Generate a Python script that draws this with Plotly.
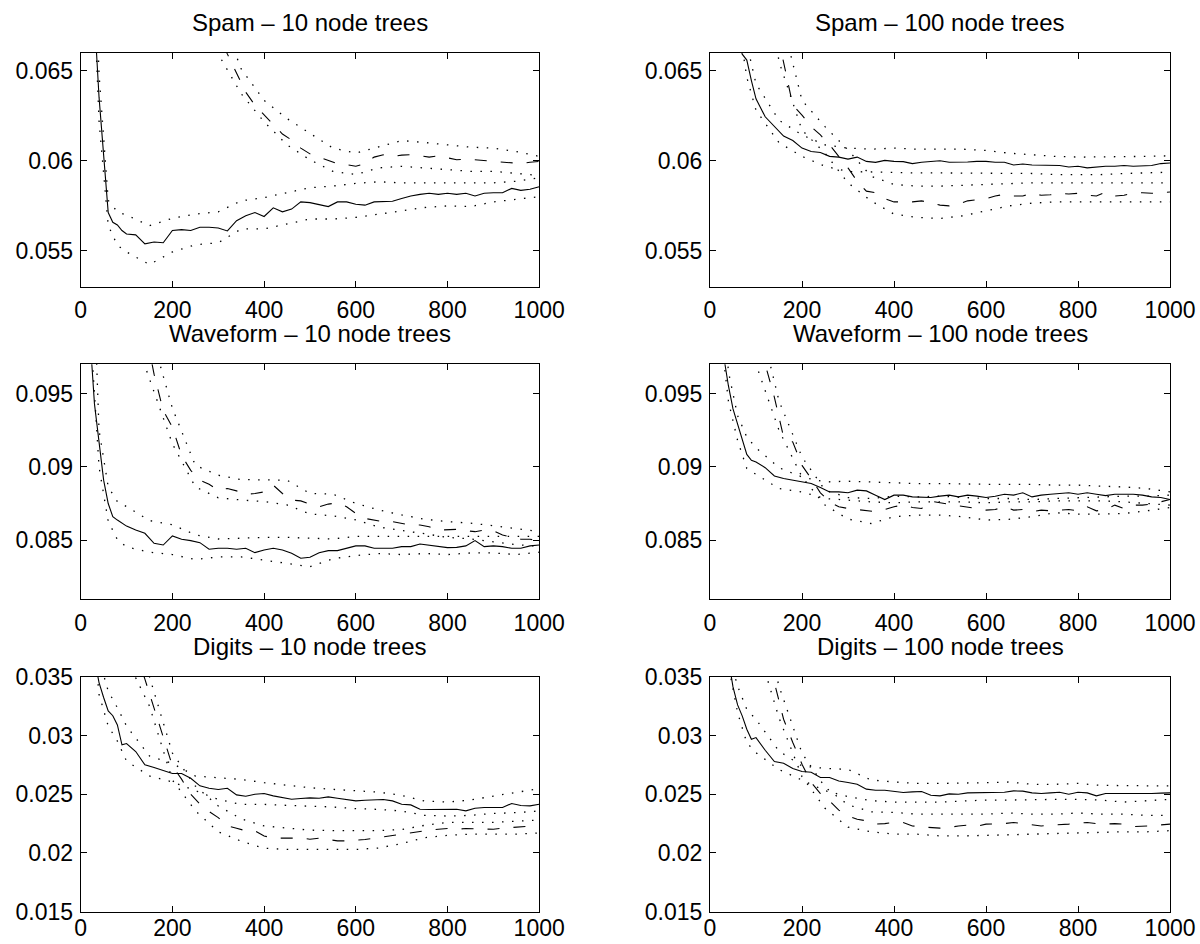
import plotly.graph_objects as go

# ---------------- x grids ----------------
X = [10, 20, 30, 40, 50, 60, 70, 80, 90, 100,
     120, 140, 160, 180, 200, 220, 240, 260, 280, 300,
     320, 340, 360, 380, 400, 420, 440, 460, 480, 500,
     520, 540, 560, 580, 600, 620, 640, 660, 680, 700,
     720, 740, 760, 780, 800, 820, 840, 860, 880, 900,
     920, 940, 960, 980, 1000]
BX = [20, 40, 60, 80, 100, 150, 200, 250, 300, 350, 400, 450,
      500, 550, 600, 650, 700, 750, 800, 850, 900, 950, 1000]

X_TICKS = [0, 200, 400, 600, 800, 1000]
X_TICK_LABELS = ["0", "200", "400", "600", "800", "1000"]

TITLES = ["Spam \u2013 10 node trees", "Spam \u2013 100 node trees",
          "Waveform \u2013 10 node trees", "Waveform \u2013 100 node trees",
          "Digits \u2013 10 node trees", "Digits \u2013 100 node trees"]

# ---------------- Spam, 10 node trees ----------------
spam10_solid = [0.09, 0.078, 0.068, 0.06353, 0.06005, 0.05712, 0.05658, 0.05643, 0.05612, 0.05593,
                0.05588, 0.05538, 0.05548, 0.05544, 0.05612, 0.05617, 0.05612, 0.0563, 0.0563, 0.05626,
                0.0561, 0.05667, 0.05694, 0.05712, 0.0569, 0.05738, 0.05716, 0.05731, 0.05771, 0.05767,
                0.05756, 0.05745, 0.05771, 0.05771, 0.05758, 0.05753, 0.05771, 0.05775, 0.05775, 0.0579,
                0.05804, 0.05813, 0.05819, 0.05813, 0.05819, 0.05813, 0.05819, 0.05804, 0.05819, 0.05822,
                0.05822, 0.05846, 0.05835, 0.05841, 0.05855]
spam10_solid_hi = [0.08, 0.0648, 0.0578, 0.05716, 0.05698, 0.05639, 0.0568, 0.05703, 0.05716, 0.05777,
                   0.05795, 0.05822, 0.0585, 0.05859, 0.05874, 0.05883, 0.05877, 0.05877, 0.05877,
                   0.05881, 0.05877, 0.05886, 0.05905]
spam10_solid_lo = [0.075, 0.0622, 0.0564, 0.0553, 0.05493, 0.05423, 0.05493, 0.05533, 0.05544, 0.05621,
                   0.05621, 0.05648, 0.05676, 0.05676, 0.05685, 0.05703, 0.05722, 0.0574, 0.05749,
                   0.05745, 0.05771, 0.05786, 0.058]
spam10_dash = [0.1, 0.097, 0.094, 0.092, 0.09, 0.088, 0.086, 0.085, 0.084, 0.082,
               0.08, 0.078, 0.0765, 0.075, 0.0735, 0.0722, 0.071, 0.0696, 0.0683, 0.067,
               0.06592, 0.06482, 0.06381, 0.06308, 0.06253, 0.06198, 0.06148, 0.06115, 0.0607, 0.06038,
               0.0602, 0.06005, 0.05984, 0.05978, 0.05969, 0.05984, 0.0602, 0.06033, 0.06024, 0.06031,
               0.06033, 0.06027, 0.0602, 0.06027, 0.06015, 0.06005, 0.06009, 0.06005, 0.06002, 0.06,
               0.05995, 0.05991, 0.05984, 0.05991, 0.05996]
spam10_dash_hi = [0.1, 0.095, 0.09, 0.087, 0.084, 0.078, 0.074, 0.071, 0.0685, 0.0651,
                  0.06335, 0.06234, 0.06152, 0.0607, 0.06042, 0.06079, 0.06112, 0.06101, 0.06088,
                  0.06075, 0.0607, 0.06051, 0.06024]
spam10_dash_lo = [0.095, 0.09, 0.086, 0.083, 0.08, 0.075, 0.071, 0.068, 0.06592, 0.06372,
                  0.06216, 0.06088, 0.06005, 0.05941, 0.05923, 0.0596, 0.05969, 0.0596, 0.05951,
                  0.05941, 0.05941, 0.05929, 0.05918]

# ---------------- Spam, 100 node trees ----------------
spam100_solid = [0.085, 0.08, 0.076, 0.072, 0.069, 0.067, 0.06592, 0.06559, 0.06445, 0.06344,
                 0.06244, 0.06192, 0.06137, 0.06112, 0.0607, 0.06051, 0.06046, 0.06024, 0.0602, 0.06009,
                 0.0602, 0.05996, 0.05991, 0.06002, 0.05996, 0.05995, 0.05984, 0.05991, 0.05996, 0.06,
                 0.05991, 0.05991, 0.05993, 0.05996, 0.05996, 0.05991, 0.05991, 0.05976, 0.05982, 0.05976,
                 0.05976, 0.05973, 0.05973, 0.05965, 0.05969, 0.0596, 0.05965, 0.05969, 0.05969, 0.05973,
                 0.05969, 0.05973, 0.05973, 0.05984, 0.05987]
spam100_solid_hi = [0.09, 0.08, 0.072, 0.0665, 0.06427, 0.06225, 0.06143, 0.06088, 0.0607, 0.06064,
                    0.0607, 0.06064, 0.06064, 0.06064, 0.06057, 0.06042, 0.06033, 0.06024, 0.0602,
                    0.0602, 0.0602, 0.06024, 0.06027]
spam100_solid_lo = [0.085, 0.075, 0.068, 0.06463, 0.0628, 0.061, 0.06024, 0.05969, 0.0594, 0.05936,
                    0.05932, 0.05932, 0.05932, 0.05932, 0.05929, 0.05929, 0.05929, 0.05923, 0.05923,
                    0.05923, 0.05929, 0.05932, 0.05936]
spam100_dash = [0.1, 0.095, 0.09, 0.086, 0.083, 0.08, 0.078, 0.076, 0.074, 0.072,
                0.07, 0.0678, 0.06546, 0.06308, 0.06253, 0.06189, 0.06143, 0.06088, 0.06024, 0.0596,
                0.05886, 0.05831, 0.05822, 0.05789, 0.05771, 0.05771, 0.05771, 0.05777, 0.05767, 0.05753,
                0.05749, 0.05758, 0.05777, 0.05782, 0.05789, 0.05804, 0.05813, 0.05804, 0.05804, 0.05819,
                0.05808, 0.05811, 0.05819, 0.05815, 0.05819, 0.05808, 0.05804, 0.05826, 0.05804, 0.05808,
                0.05819, 0.05822, 0.05819, 0.05822, 0.05826]
spam100_dash_hi = [0.1, 0.095, 0.09, 0.085, 0.08, 0.0685, 0.06335, 0.06189, 0.0606, 0.05914,
                   0.05868, 0.05859, 0.05859, 0.05863, 0.05868, 0.05874, 0.05877, 0.05877, 0.05877,
                   0.05877, 0.05874, 0.05874, 0.05877]
spam100_dash_lo = [0.095, 0.09, 0.085, 0.08, 0.075, 0.0655, 0.0617, 0.06042, 0.05877, 0.05777,
                   0.05703, 0.05685, 0.05679, 0.05694, 0.05722, 0.05749, 0.05764, 0.05771, 0.05771,
                   0.05771, 0.05771, 0.05771, 0.05771]

# ---------------- Waveform, 10 node trees ----------------
wave10_solid = [0.105, 0.099, 0.0943, 0.09158, 0.0891, 0.08751, 0.08661, 0.08638, 0.08615, 0.08597,
                0.0857, 0.08548, 0.0848, 0.08468, 0.0853, 0.08507, 0.08498, 0.08484, 0.08439, 0.08446,
                0.08446, 0.08439, 0.08446, 0.08416, 0.08434, 0.08446, 0.08434, 0.08412, 0.08378, 0.08385,
                0.08416, 0.0843, 0.0843, 0.08446, 0.08462, 0.08462, 0.08446, 0.08446, 0.08446, 0.08457,
                0.08457, 0.08475, 0.08468, 0.08457, 0.0845, 0.08452, 0.08462, 0.08498, 0.08457, 0.08462,
                0.08457, 0.08446, 0.08446, 0.08462, 0.08468]
wave10_solid_hi = [0.11, 0.0925, 0.08865, 0.08764, 0.0873, 0.08635, 0.08606, 0.08538, 0.08509, 0.08516,
                   0.0852, 0.0852, 0.08516, 0.08509, 0.08527, 0.08527, 0.08523, 0.08527, 0.08523,
                   0.08527, 0.08523, 0.08523, 0.08527]
wave10_solid_lo = [0.1, 0.09, 0.0863, 0.08505, 0.08455, 0.08419, 0.08403, 0.08369, 0.08387, 0.08387,
                   0.08365, 0.08342, 0.0832, 0.08374, 0.08396, 0.0841, 0.08403, 0.0841, 0.08403,
                   0.08414, 0.08414, 0.08403, 0.08419]
wave10_dash = [0.125, 0.122, 0.12, 0.118, 0.116, 0.114, 0.112, 0.11, 0.108, 0.106,
               0.103, 0.0995, 0.09633, 0.09385, 0.09271, 0.09079, 0.08977, 0.0891, 0.08882, 0.08842,
               0.08853, 0.08837, 0.08814, 0.08819, 0.0883, 0.08876, 0.08819, 0.08774, 0.08769, 0.08747,
               0.08729, 0.08747, 0.08756, 0.08729, 0.08683, 0.08649, 0.08638, 0.08627, 0.08627, 0.08615,
               0.08604, 0.08604, 0.08593, 0.0857, 0.08575, 0.08575, 0.08566, 0.08559, 0.0857, 0.08566,
               0.08536, 0.0852, 0.08507, 0.08507, 0.08498]
wave10_dash_hi = [0.125, 0.118, 0.113, 0.109, 0.106, 0.0995, 0.094, 0.09011, 0.08944, 0.08914,
                  0.08914, 0.0891, 0.0882, 0.08815, 0.08752, 0.08707, 0.08673, 0.08644, 0.08628,
                  0.08617, 0.086, 0.0858, 0.0856]
wave10_dash_lo = [0.12, 0.113, 0.108, 0.104, 0.1005, 0.096, 0.09158, 0.08864, 0.0879, 0.08775,
                  0.08764, 0.08741, 0.0868, 0.08667, 0.0864, 0.0859, 0.0857, 0.08545, 0.0852,
                  0.0851, 0.0849, 0.0847, 0.0846]

# ---------------- Waveform, 100 node trees ----------------
wave100_solid = [0.11, 0.103, 0.0975, 0.09554, 0.09396, 0.0929, 0.09181, 0.09086, 0.09045, 0.09034,
                 0.08995, 0.08939, 0.08921, 0.0891, 0.08898, 0.08887, 0.0886, 0.0883, 0.0883, 0.08824,
                 0.08842, 0.08837, 0.08808, 0.08778, 0.08808, 0.08808, 0.08796, 0.08796, 0.08792, 0.08801,
                 0.08808, 0.08796, 0.08808, 0.08801, 0.08792, 0.08801, 0.08814, 0.08808, 0.08824, 0.08796,
                 0.08808, 0.08814, 0.08819, 0.08824, 0.08814, 0.08824, 0.08814, 0.08805, 0.08814, 0.08814,
                 0.08814, 0.08808, 0.08796, 0.08792, 0.08778]
wave100_solid_hi = [0.105, 0.0965, 0.0935, 0.09204, 0.09131, 0.08995, 0.08932, 0.08898, 0.08903, 0.08898,
                    0.08891, 0.08887, 0.08887, 0.08882, 0.08882, 0.08882, 0.08882, 0.08876, 0.08876,
                    0.08869, 0.08864, 0.08853, 0.0883]
wave100_solid_lo = [0.1, 0.0945, 0.0918, 0.0899, 0.0895, 0.08853, 0.0883, 0.08785, 0.08774, 0.08762,
                    0.08756, 0.08762, 0.08762, 0.08762, 0.08756, 0.08762, 0.08762, 0.08769, 0.08769,
                    0.08769, 0.08762, 0.08751, 0.0874]
wave100_dash = [0.13, 0.125, 0.12, 0.116, 0.112, 0.109, 0.106, 0.103, 0.101, 0.099,
                0.097, 0.09475, 0.09204, 0.0917, 0.09011, 0.08921, 0.08824, 0.08762, 0.08729, 0.08717,
                0.0871, 0.08701, 0.08695, 0.0871, 0.08729, 0.0874, 0.08724, 0.08717, 0.08767, 0.08756,
                0.08747, 0.08733, 0.08729, 0.08717, 0.08706, 0.0871, 0.08729, 0.08706, 0.0871, 0.08695,
                0.08706, 0.08701, 0.08706, 0.0871, 0.08701, 0.08729, 0.08701, 0.0871, 0.0874, 0.08717,
                0.0874, 0.0874, 0.08747, 0.08762, 0.08778]
wave100_dash_hi = [0.13, 0.12, 0.112, 0.106, 0.101, 0.0945, 0.09068, 0.08842, 0.08792, 0.08785,
                   0.08801, 0.08796, 0.08801, 0.08792, 0.08785, 0.08785, 0.08778, 0.08785, 0.08792,
                   0.08796, 0.08801, 0.08801, 0.08808]
wave100_dash_lo = [0.125, 0.115, 0.108, 0.102, 0.097, 0.0925, 0.08932, 0.0874, 0.08645, 0.08615,
                   0.08661, 0.08672, 0.08672, 0.08661, 0.08638, 0.08643, 0.08661, 0.08688, 0.08679,
                   0.08679, 0.08683, 0.08701, 0.08724]

# ---------------- Digits, 10 node trees ----------------
digits10_solid = [0.045, 0.04, 0.0365, 0.0345, 0.03323, 0.03209, 0.03168, 0.0309, 0.0292, 0.02931,
                  0.02863, 0.0275, 0.02727, 0.02699, 0.02676, 0.02676, 0.02636, 0.02571, 0.02551, 0.0254,
                  0.02551, 0.02494, 0.02483, 0.025, 0.02506, 0.02486, 0.02472, 0.02457, 0.02463, 0.02469,
                  0.02466, 0.02477, 0.02466, 0.02455, 0.02443, 0.02449, 0.02449, 0.02455, 0.02443, 0.02415,
                  0.02409, 0.02372, 0.0237, 0.02372, 0.02372, 0.02372, 0.02358, 0.02381, 0.02387, 0.02387,
                  0.02387, 0.02421, 0.02404, 0.02401, 0.02415]
digits10_solid_hi = [0.045, 0.0365, 0.03378, 0.03236, 0.0308, 0.02825, 0.02762, 0.02655, 0.0264, 0.02626,
                     0.02598, 0.02575, 0.02555, 0.02541, 0.0253, 0.02518, 0.0249, 0.02442, 0.02433,
                     0.0245, 0.02484, 0.02513, 0.02547]
digits10_solid_lo = [0.042, 0.0335, 0.0308, 0.02952, 0.02782, 0.02655, 0.02604, 0.02527, 0.02456, 0.02413,
                     0.02413, 0.02405, 0.02399, 0.02391, 0.02377, 0.02371, 0.02357, 0.0232, 0.02314,
                     0.0232, 0.02337, 0.02343, 0.02357]
digits10_dash = [0.07, 0.06, 0.055, 0.05, 0.047, 0.044, 0.042, 0.041, 0.04, 0.0392,
                 0.0372, 0.03479, 0.03238, 0.02982, 0.02741, 0.02628, 0.025, 0.02415, 0.02352, 0.02301,
                 0.0223, 0.02211, 0.02188, 0.02188, 0.02145, 0.02126, 0.02126, 0.02126, 0.02126, 0.02117,
                 0.02126, 0.02114, 0.02103, 0.02103, 0.02108, 0.02114, 0.02126, 0.02137, 0.02154, 0.0216,
                 0.02174, 0.02182, 0.02194, 0.02202, 0.02208, 0.02202, 0.02208, 0.02205, 0.02202, 0.02202,
                 0.02211, 0.02216, 0.02222, 0.02228, 0.02245]
digits10_dash_hi = [0.065, 0.052, 0.046, 0.042, 0.039, 0.035, 0.0285, 0.0257, 0.024, 0.0229,
                    0.0223, 0.0221, 0.02194, 0.0219, 0.0219, 0.0219, 0.022, 0.02235, 0.0226,
                    0.0226, 0.0226, 0.0227, 0.0228]
digits10_dash_lo = [0.06, 0.048, 0.043, 0.039, 0.0365, 0.0325, 0.0262, 0.0236, 0.0218, 0.021,
                    0.0204, 0.0203, 0.0203, 0.0203, 0.0203, 0.02042, 0.0208, 0.0213, 0.0215,
                    0.0216, 0.0216, 0.0216, 0.0217]

# ---------------- Digits, 100 node trees ----------------
digits100_solid = [0.06, 0.048, 0.041, 0.0365, 0.03413, 0.0326, 0.03167, 0.03053, 0.02968, 0.02982,
                   0.02874, 0.02778, 0.02764, 0.02718, 0.02693, 0.02687, 0.02642, 0.02642, 0.02613, 0.02599,
                   0.02585, 0.02543, 0.02534, 0.02534, 0.02523, 0.02514, 0.0252, 0.02523, 0.02491, 0.02486,
                   0.02503, 0.025, 0.02511, 0.02514, 0.02517, 0.02514, 0.02517, 0.02528, 0.02526, 0.02511,
                   0.02506, 0.02511, 0.02517, 0.025, 0.02517, 0.02511, 0.02486, 0.02506, 0.02506, 0.025,
                   0.02503, 0.02506, 0.02506, 0.02509, 0.02511]
digits100_solid_hi = [0.05, 0.037, 0.0342, 0.03222, 0.03137, 0.02867, 0.0274, 0.0272, 0.02711, 0.02621,
                      0.02604, 0.02592, 0.02592, 0.02592, 0.02598, 0.02604, 0.02584, 0.02584, 0.02592,
                      0.02575, 0.02575, 0.0257, 0.0257]
digits100_solid_lo = [0.045, 0.036, 0.03194, 0.02938, 0.02853, 0.0271, 0.0262, 0.0253, 0.0248, 0.02445,
                      0.02433, 0.02433, 0.02433, 0.02442, 0.0245, 0.0245, 0.02456, 0.02456, 0.02456,
                      0.0245, 0.02433, 0.02442, 0.02456]
digits100_dash = [0.08, 0.07, 0.06, 0.055, 0.05, 0.047, 0.044, 0.042, 0.04, 0.039,
                  0.037, 0.0345, 0.03138, 0.0294, 0.02755, 0.02599, 0.02506, 0.02443, 0.02364, 0.02316,
                  0.02287, 0.02273, 0.02245, 0.0225, 0.02259, 0.02259, 0.0223, 0.02222, 0.02216, 0.02211,
                  0.02216, 0.0223, 0.02236, 0.02228, 0.02245, 0.02245, 0.0225, 0.02259, 0.0225, 0.02239,
                  0.0223, 0.02236, 0.02239, 0.02245, 0.02253, 0.02259, 0.0225, 0.02245, 0.0225, 0.02245,
                  0.02225, 0.02225, 0.0223, 0.02239, 0.02245]
digits100_dash_hi = [0.075, 0.06, 0.05, 0.045, 0.042, 0.0342, 0.0285, 0.0256, 0.0241, 0.0235,
                     0.02345, 0.0233, 0.0233, 0.0233, 0.0233, 0.0234, 0.0233, 0.0233, 0.0234,
                     0.0233, 0.0233, 0.0232, 0.0232]
digits100_dash_lo = [0.07, 0.055, 0.046, 0.042, 0.038, 0.0315, 0.0265, 0.0238, 0.0222, 0.0218,
                     0.0216, 0.0216, 0.02145, 0.02145, 0.0215, 0.0216, 0.0216, 0.0217, 0.0217,
                     0.0218, 0.0218, 0.0218, 0.0219]

PANELS = [
    (spam10_solid, spam10_solid_hi, spam10_solid_lo, spam10_dash, spam10_dash_hi, spam10_dash_lo),
    (spam100_solid, spam100_solid_hi, spam100_solid_lo, spam100_dash, spam100_dash_hi, spam100_dash_lo),
    (wave10_solid, wave10_solid_hi, wave10_solid_lo, wave10_dash, wave10_dash_hi, wave10_dash_lo),
    (wave100_solid, wave100_solid_hi, wave100_solid_lo, wave100_dash, wave100_dash_hi, wave100_dash_lo),
    (digits10_solid, digits10_solid_hi, digits10_solid_lo, digits10_dash, digits10_dash_hi, digits10_dash_lo),
    (digits100_solid, digits100_solid_hi, digits100_solid_lo, digits100_dash, digits100_dash_hi, digits100_dash_lo),
]

Y_RANGES = [[0.053, 0.066], [0.053, 0.066], [0.081, 0.097], [0.081, 0.097], [0.015, 0.035], [0.015, 0.035]]
Y_TICKS = [[0.055, 0.06, 0.065], [0.055, 0.06, 0.065],
           [0.085, 0.09, 0.095], [0.085, 0.09, 0.095],
           [0.015, 0.02, 0.025, 0.03, 0.035], [0.015, 0.02, 0.025, 0.03, 0.035]]
Y_TICK_LABELS = [["0.055", "0.06", "0.065"], ["0.055", "0.06", "0.065"],
                 ["0.085", "0.09", "0.095"], ["0.085", "0.09", "0.095"],
                 ["0.015", "0.02", "0.025", "0.03", "0.035"], ["0.015", "0.02", "0.025", "0.03", "0.035"]]

# ---------------- layout geometry ----------------
W, H = 1200, 944
COL_PX = [(80.7, 539.2), (710.0, 1170.0)]
ROW_PX = [(52.7, 286.7), (364.3, 599.0), (676.7, 911.7)]
ROW_XLABEL_STANDOFF = [3, 3, -4]

FONT = "Liberation Sans, Arial, Helvetica, sans-serif"
DOT = "1.5px,8.5px"
DASH = "12px,14px"

fig = go.Figure()
layout = dict(template="none", width=W, height=H, autosize=False,
              margin=dict(l=0, r=0, t=0, b=0, pad=0),
              paper_bgcolor="white", plot_bgcolor="white", showlegend=False,
              font=dict(family=FONT, color="black"))
annotations = []

for p, series in enumerate(PANELS):
    r, c = divmod(p, 2)
    n = p + 1
    xs = "x" if n == 1 else f"x{n}"
    ys = "y" if n == 1 else f"y{n}"
    solid, solid_hi, solid_lo, dash, dash_hi, dash_lo = series
    for band in (dash_hi, dash_lo, solid_hi, solid_lo):
        fig.add_trace(go.Scatter(x=BX, y=band, mode="lines", xaxis=xs, yaxis=ys,
                                 line=dict(color="black", width=1.3, dash=DOT),
                                 hoverinfo="skip"))
    fig.add_trace(go.Scatter(x=X, y=dash, mode="lines", xaxis=xs, yaxis=ys,
                             line=dict(color="black", width=1.1, dash=DASH)))
    fig.add_trace(go.Scatter(x=X, y=solid, mode="lines", xaxis=xs, yaxis=ys,
                             line=dict(color="black", width=1.1)))

    x0, x1 = COL_PX[c]
    yt, yb = ROW_PX[r]
    common = dict(showline=True, linecolor="black", linewidth=1, mirror="ticks",
                  ticks="inside", ticklen=6, tickwidth=1, tickcolor="black",
                  showgrid=False, zeroline=False, automargin=False,
                  tickfont=dict(family=FONT, size=23, color="black"))
    layout["xaxis" if n == 1 else f"xaxis{n}"] = dict(
        domain=[x0 / W, x1 / W], anchor=ys, range=[0, 1000],
        tickvals=X_TICKS, ticktext=X_TICK_LABELS,
        ticklabelstandoff=ROW_XLABEL_STANDOFF[r], **common)
    layout["yaxis" if n == 1 else f"yaxis{n}"] = dict(
        domain=[1 - yb / H, 1 - yt / H], anchor=xs, range=Y_RANGES[p],
        tickvals=Y_TICKS[p], ticktext=Y_TICK_LABELS[p], ticklabelstandoff=2, **common)
    annotations.append(dict(text=TITLES[p], x=(x0 + x1) / 2 / W, y=1 - yt / H,
                            xref="paper", yref="paper", xanchor="center", yanchor="bottom",
                            showarrow=False, yshift=15,
                            font=dict(family=FONT, size=24, color="black")))

layout["annotations"] = annotations
fig.update_layout(**layout)
# remove the default page margin so the 1200x944 figure fills the window exactly
fig.write_html("out.html", config={"displayModeBar": False},
               post_script="document.body.style.margin='0px';document.body.style.overflow='hidden';")
